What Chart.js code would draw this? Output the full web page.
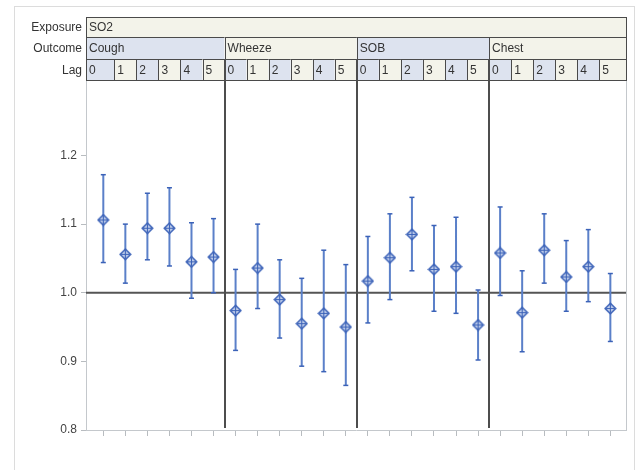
<!DOCTYPE html>
<html>
<head>
<meta charset="utf-8">
<script src="https://cdn.jsdelivr.net/npm/chart.js@4/dist/chart.umd.min.js"></script>
<style>
html,body{margin:0;padding:0;background:#fff;}
#wrap{width:638px;height:470px;position:relative;}
</style>
</head>
<body>
<div id="wrap"><canvas id="c" width="638" height="470"></canvas></div>
<script>
const exposure = 'SO2';
const outcomes = ['Cough', 'Wheeze', 'SOB', 'Chest'];
const lags = ['0', '1', '2', '3', '4', '5'];
const yTicks = [0.8, 0.9, 1.0, 1.1, 1.2];
const estimate = [1.106, 1.056, 1.094, 1.094, 1.045, 1.052,
                  0.974, 1.036, 0.990, 0.955, 0.970, 0.950,
                  1.017, 1.051, 1.085, 1.034, 1.038, 0.953,
                  1.058, 0.971, 1.062, 1.023, 1.038, 0.977];
const lower = [1.044, 1.014, 1.048, 1.039, 0.992, 1.000,
               0.916, 0.977, 0.934, 0.893, 0.885, 0.865,
               0.956, 0.990, 1.032, 0.973, 0.970, 0.902,
               0.996, 0.914, 1.014, 0.973, 0.987, 0.929];
const upper = [1.172, 1.100, 1.145, 1.153, 1.102, 1.108,
               1.034, 1.100, 1.048, 1.021, 1.062, 1.041,
               1.082, 1.115, 1.139, 1.098, 1.110, 1.004,
               1.125, 1.032, 1.115, 1.076, 1.092, 1.028];

const FONT = '"Liberation Sans", Arial, sans-serif';
const BLUE = '#3b62b8';
const WHISK = '#5b80c9';
const HDR_BLUE = '#dde3ef';
const HDR_BEIGE = '#f3f3ea';
const HDR_LINE = '#4a4a4a';

// marker: diamond with plus
function makeMarker() {
  const s = 13, c = document.createElement('canvas');
  c.width = s; c.height = s;
  const g = c.getContext('2d');
  const m = s / 2, r = 5.2;
  g.beginPath();
  g.moveTo(m, m - r); g.lineTo(m + r, m); g.lineTo(m, m + r); g.lineTo(m - r, m); g.closePath();
  g.fillStyle = '#c8d4ee'; g.fill();
  g.lineWidth = 1.6; g.strokeStyle = BLUE; g.stroke();
  g.beginPath();
  g.moveTo(m - r + 1, m); g.lineTo(m + r - 1, m);
  g.moveTo(m, m - r + 1); g.lineTo(m, m + r - 1);
  g.lineWidth = 1.2; g.stroke();
  return c;
}
const marker = makeMarker();

const n = estimate.length;
const whiskerPts = [];
for (let i = 0; i < n; i++) {
  whiskerPts.push({x: i, y: lower[i]}, {x: i, y: upper[i]}, {x: i, y: null});
}
const capPts = [];
for (let i = 0; i < n; i++) { capPts.push({x: i, y: lower[i]}, {x: i, y: upper[i]}); }
const estPts = estimate.map((v, i) => ({x: i, y: v}));

const framePlugin = {
  id: 'frame',
  beforeDraw(chart) {
    const ctx = chart.ctx;
    ctx.save();
    ctx.strokeStyle = '#dcdcdc'; ctx.lineWidth = 1;
    ctx.strokeRect(14.5, 6.5, 620, 500);
    ctx.restore();
  },
  beforeDatasetsDraw(chart) {
    const {ctx, chartArea: a, scales: {x, y}} = chart;
    ctx.save();
    // plot frame
    ctx.strokeStyle = '#c4c8cc'; ctx.lineWidth = 1;
    ctx.beginPath();
    ctx.moveTo(Math.round(a.right) + 0.5, a.top); ctx.lineTo(Math.round(a.right) + 0.5, a.bottom);
    ctx.stroke();
    // reference line at 1.0
    const y1 = y.getPixelForValue(1.0);
    ctx.strokeStyle = '#555'; ctx.lineWidth = 2;
    ctx.beginPath(); ctx.moveTo(a.left, y1); ctx.lineTo(a.right, y1); ctx.stroke();
    ctx.restore();
  },
  afterDraw(chart) {
    const {ctx, chartArea: a, scales: {x}} = chart;
    const rows = [a.top - 63, a.top - 43, a.top - 21, a.top];
    ctx.save();
    ctx.font = '12px ' + FONT;
    ctx.textBaseline = 'middle';
    const L = a.left, R = a.right;
    const cell = (x0, x1, y0, y1, fill, text) => {
      ctx.fillStyle = fill;
      ctx.fillRect(x0, y0, x1 - x0, y1 - y0);
      ctx.strokeStyle = HDR_LINE; ctx.lineWidth = 1;
      ctx.strokeRect(Math.round(x0) + 0.5, Math.round(y0) + 0.5, Math.round(x1) - Math.round(x0), Math.round(y1) - Math.round(y0));
      ctx.fillStyle = '#333'; ctx.textAlign = 'left';
      ctx.fillText(text, x0 + 3, (y0 + y1) / 2 + 1);
    };
    // Exposure row
    cell(L, R, rows[0], rows[1], HDR_BEIGE, exposure);
    // Outcome row
    const per = lags.length;
    outcomes.forEach((o, k) => {
      const x0 = k === 0 ? L : x.getPixelForValue(k * per - 0.5);
      const x1 = k === outcomes.length - 1 ? R : x.getPixelForValue((k + 1) * per - 0.5);
      cell(x0, x1, rows[1], rows[2], k % 2 === 0 ? HDR_BLUE : HDR_BEIGE, o);
    });
    // Lag row
    for (let i = 0; i < n; i++) {
      const x0 = i === 0 ? L : x.getPixelForValue(i - 0.5);
      const x1 = i === n - 1 ? R : x.getPixelForValue(i + 0.5);
      cell(x0, x1, rows[2], rows[3], (i % per) % 2 === 0 ? HDR_BLUE : HDR_BEIGE, lags[i % per]);
    }
    // row titles
    ctx.fillStyle = '#333'; ctx.textAlign = 'right';
    ['Exposure', 'Outcome', 'Lag'].forEach((t, k) => {
      ctx.fillText(t, L - 4, (rows[k] + rows[k + 1]) / 2 + 1);
    });
    // group dividers
    ctx.strokeStyle = '#4d4d4d'; ctx.lineWidth = 2;
    for (let k = 1; k < outcomes.length; k++) {
      const xd = Math.round(x.getPixelForValue(k * per - 0.5));
      ctx.beginPath(); ctx.moveTo(xd, rows[2]); ctx.lineTo(xd, a.bottom - 2); ctx.stroke();
    }
    ctx.restore();
  }
};

new Chart(document.getElementById('c'), {
  type: 'scatter',
  data: {
    datasets: [
      {
        type: 'line', data: whiskerPts, borderColor: WHISK, borderWidth: 2,
        pointRadius: 0, spanGaps: false, fill: false, order: 3
      },
      {
        data: capPts, pointStyle: 'line', pointRadius: 2.5, borderColor: BLUE,
        borderWidth: 1.5, backgroundColor: BLUE, order: 2
      },
      {
        data: estPts, pointStyle: marker, pointRadius: 6, order: 1
      }
    ]
  },
  options: {
    responsive: false,
    animation: false,
    layout: {padding: {top: 80, left: 0, right: 12, bottom: 34}},
    plugins: {legend: {display: false}, tooltip: {enabled: false}},
    scales: {
      x: {
        type: 'linear', min: -0.785, max: 23.71,
        afterBuildTicks(s) { s.ticks = estimate.map((_, i) => ({value: i})); },
        ticks: {display: false},
        grid: {drawOnChartArea: false, drawTicks: true, tickLength: 6, color: '#b8bcc0'},
        border: {color: '#c4c8cc', width: 1}
      },
      y: {
        min: 0.8, max: 1.31,
        afterBuildTicks(s) { s.ticks = yTicks.map(v => ({value: v})); },
        afterFit(s) { s.width = 86; },
        ticks: {
          callback: v => Number(v).toFixed(1), color: '#444', padding: 4,
          font: {family: FONT, size: 12}
        },
        grid: {drawOnChartArea: false, drawTicks: true, tickLength: 5, color: '#b8bcc0'},
        border: {color: '#c4c8cc', width: 1}
      }
    }
  },
  plugins: [framePlugin]
});
</script>
</body>
</html>
